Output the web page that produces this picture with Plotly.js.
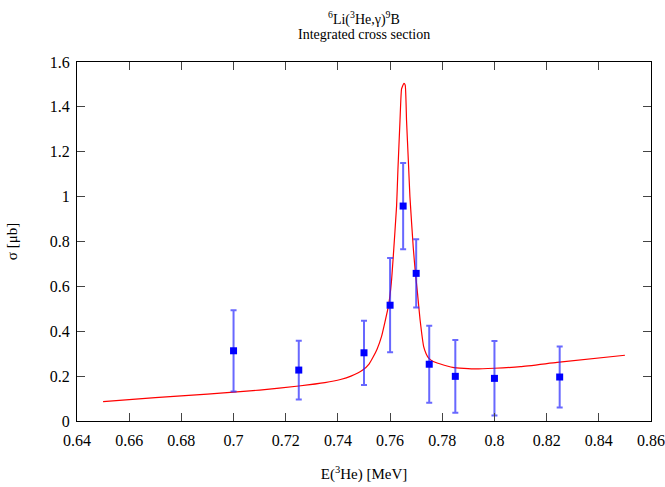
<!DOCTYPE html>
<html>
<head>
<meta charset="utf-8">
<script src="https://cdn.plot.ly/plotly-3.0.1.min.js"></script>
<style>html,body{margin:0;padding:0;background:#fff;}#chart{width:665px;height:487px;}</style>
</head>
<body>
<div id="chart"></div>
<script>
// Measured data points
const dataE = [0.700, 0.725, 0.750, 0.760, 0.765, 0.770, 0.775, 0.785, 0.800, 0.825];
const dataSigma = [0.313, 0.227, 0.304, 0.516, 0.958, 0.658, 0.253, 0.199, 0.190, 0.196];
const dataErr = [0.181, 0.131, 0.143, 0.210, 0.192, 0.152, 0.172, 0.162, 0.166, 0.136];

// Fitted curve
const fitE = [0.650, 0.670, 0.690, 0.700, 0.710, 0.725, 0.735, 0.741, 0.745, 0.7495, 0.752, 0.7535, 0.755, 0.7567, 0.758, 0.7594, 0.7605, 0.7612, 0.7625, 0.7630, 0.7638, 0.7644, 0.7653, 0.7658, 0.7663, 0.7670, 0.7676, 0.7689, 0.7697, 0.7705, 0.7715, 0.7729, 0.7738, 0.7748, 0.7765, 0.7790, 0.7840, 0.7927, 0.8000, 0.8100, 0.8240, 0.8500];
const fitSigma = [0.086, 0.104, 0.120, 0.129, 0.138, 0.156, 0.171, 0.185, 0.200, 0.227, 0.255, 0.285, 0.320, 0.376, 0.440, 0.514, 0.620, 0.730, 0.960, 1.120, 1.340, 1.480, 1.505, 1.497, 1.340, 1.160, 1.000, 0.770, 0.660, 0.570, 0.450, 0.330, 0.300, 0.280, 0.265, 0.255, 0.239, 0.232, 0.235, 0.242, 0.261, 0.293];

const xTicks = [0.64, 0.66, 0.68, 0.70, 0.72, 0.74, 0.76, 0.78, 0.80, 0.82, 0.84, 0.86];
const xTickLabels = ['0.64', '0.66', '0.68', '0.7', '0.72', '0.74', '0.76', '0.78', '0.8', '0.82', '0.84', '0.86'];
const yTicks = [0, 0.2, 0.4, 0.6, 0.8, 1.0, 1.2, 1.4, 1.6];
const yTickLabels = ['0', '0.2', '0.4', '0.6', '0.8', '1', '1.2', '1.4', '1.6'];

const serif = '"Liberation Serif", "Times New Roman", serif';

const traces = [
  {
    x: fitE, y: fitSigma, type: 'scatter', mode: 'lines',
    line: {color: '#ff0000', width: 1.2, shape: 'spline', smoothing: 0.4},
    hoverinfo: 'skip', showlegend: false
  },
  {
    x: dataE, y: dataSigma, type: 'scatter', mode: 'markers',
    marker: {symbol: 'square', size: 7, color: '#0000ff'},
    error_y: {type: 'data', array: dataErr, visible: true, color: 'rgba(40,40,255,0.7)', thickness: 2, width: 3},
    showlegend: false
  }
];

const axisCommon = {
  showline: true, linecolor: '#000', linewidth: 1, mirror: 'ticks',
  ticks: 'inside', ticklen: 8, tickwidth: 1, tickcolor: '#444',
  showgrid: false, zeroline: false,
  tickfont: {family: serif, size: 16, color: '#000'}
};

const layout = {
  width: 665, height: 487,
  margin: {l: 77, r: 14, t: 62, b: 66},
  paper_bgcolor: '#fff', plot_bgcolor: '#fff',
  annotations: [
    {
      text: '<sup>6</sup>Li(<sup>3</sup>He,γ)<sup>9</sup>B',
      xref: 'paper', yref: 'paper', x: 0.5, y: 1, yshift: 44,
      xanchor: 'center', yanchor: 'middle', showarrow: false,
      font: {family: serif, size: 14, color: '#000'}
    },
    {
      text: 'Integrated cross section',
      xref: 'paper', yref: 'paper', x: 0.5, y: 1, yshift: 28,
      xanchor: 'center', yanchor: 'middle', showarrow: false,
      font: {family: serif, size: 14, color: '#000'}
    }
  ],
  xaxis: Object.assign({}, axisCommon, {
    range: [0.64, 0.86], tickvals: xTicks, ticktext: xTickLabels,
    ticklabelstandoff: 5,
    title: {text: 'E(<sup>3</sup>He) [MeV]', font: {family: serif, size: 15, color: '#000'}, standoff: 20}
  }),
  yaxis: Object.assign({}, axisCommon, {
    range: [0, 1.6], tickvals: yTicks, ticktext: yTickLabels,
    ticklabelstandoff: 3,
    title: {text: 'σ [μb]', font: {family: serif, size: 15, color: '#000'}, standoff: 28}
  })
};

Plotly.newPlot('chart', traces, layout, {displayModeBar: false, staticPlot: true});
</script>
</body>
</html>
